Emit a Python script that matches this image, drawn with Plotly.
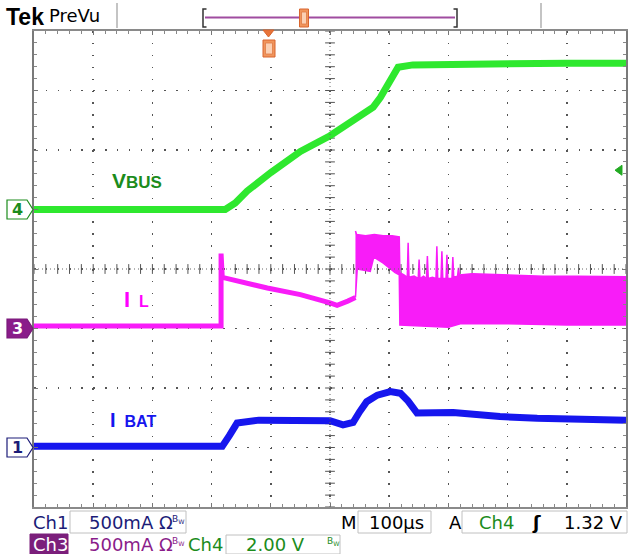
import numpy as np
import plotly.graph_objects as go

# ---------------- data (time in µs, 100 µs/div) ----------------
# Ch4 : VBUS (V), 2.00 V/div, ground marker at +1 div
vbus_t = [0, 100, 200, 323, 340, 360, 400, 450, 500, 534, 550, 573, 585, 600, 615, 640, 700, 800, 900, 1000]
vbus_v = [0.0, 0.0, 0.0, 0.0, 0.22, 0.62, 1.24, 1.95, 2.48, 2.94, 3.16, 3.44, 3.76, 4.30, 4.78, 4.86, 4.88, 4.90, 4.92, 4.92]

# Ch3 : IL (A), 500 mA/div, zero marker at -1 div
il_t = [0, 316, 316, 318, 394, 450, 500, 512, 530, 543]
il_a = [0.02, 0.02, 0.63, 0.43, 0.34, 0.285, 0.215, 0.195, 0.23, 0.26]
# switching region: upper / lower envelope of the inductor current
il_up_t = [543, 545, 560, 575, 590, 605, 617, 618, 625, 630.5, 632, 633.5, 642, 649, 650.5, 652,
           658, 663, 664.5, 666, 673, 679, 680.5, 682, 687.5, 689, 690.5, 696, 697.5, 699,
           706, 707.5, 709, 715.5, 717, 718.5, 740, 800, 860, 920, 1000]
il_up_a = [0.82, 0.79, 0.78, 0.79, 0.78, 0.78, 0.77, 0.47, 0.45, 0.43, 0.72, 0.43, 0.44, 0.42, 0.58, 0.42,
           0.44, 0.42, 0.61, 0.42, 0.43, 0.42, 0.69, 0.42, 0.42, 0.65, 0.42, 0.42, 0.62, 0.42,
           0.42, 0.60, 0.43, 0.44, 0.51, 0.45, 0.46, 0.45, 0.44, 0.44, 0.435]
il_lo_t = [543, 546, 568, 574, 590, 610, 617, 618, 650, 700, 720, 800, 900, 1000]
il_lo_a = [0.26, 0.50, 0.48, 0.60, 0.55, 0.47, 0.45, 0.03, 0.02, 0.01, 0.04, 0.04, 0.03, 0.03]

# Ch1 : IBAT (A), 500 mA/div, zero marker at -3 div
ibat_t = [0, 100, 200, 318, 330, 343, 380, 450, 500, 522, 539, 550, 562, 580, 602, 619, 632, 647, 708, 787, 850, 1000]
ibat_a = [0.01, 0.01, 0.01, 0.01, 0.10, 0.205, 0.23, 0.235, 0.225, 0.19, 0.21, 0.30, 0.385, 0.44, 0.47, 0.455,
          0.39, 0.29, 0.295, 0.26, 0.245, 0.23]

# channel settings: (scale per div, marker position in div)
ch4_scale, ch4_pos = 2.0, 1.0
ch3_scale, ch3_pos = 0.5, -1.0
ch1_scale, ch1_pos = 0.5, -3.0
trig_level = 1.32

def to_div(vals, scale, pos):
    return [v / scale + pos for v in vals]

# ---------------- geometry ----------------
W, H = 628, 554
L, R, T, B = 34, 2, 31, 47
PW, PH = W - L - R, H - T - B

def PX(x):
    return (x - L) / PW

def PY(y):
    return (H - B - y) / PH

GREEN = '#2ee82e'
MAG = '#f81cf8'
BLUE = '#1616ee'
DKGREEN = '#1c8c1c'
NAVY = '#1c1c78'
PURPLE = '#8a1c8a'

fig = go.Figure()

# center cross ticks of the graticule
cx = np.arange(0, 1000.1, 20)
cy = np.arange(-4, 4.01, 0.2)
fig.add_trace(go.Scatter(x=cx, y=np.zeros_like(cx), mode='markers',
                         marker=dict(symbol='line-ns', size=7, line=dict(width=1, color='#555')),
                         hoverinfo='skip'))
fig.add_trace(go.Scatter(x=np.full_like(cy, 500), y=cy, mode='markers',
                         marker=dict(symbol='line-ew', size=7, line=dict(width=1, color='#555')),
                         hoverinfo='skip'))

# VBUS
fig.add_trace(go.Scatter(x=vbus_t, y=to_div(vbus_v, ch4_scale, ch4_pos), mode='lines',
                         line=dict(color=GREEN, width=7), hoverinfo='skip'))
# IBAT
fig.add_trace(go.Scatter(x=ibat_t, y=to_div(ibat_a, ch1_scale, ch1_pos), mode='lines',
                         line=dict(color=BLUE, width=7), hoverinfo='skip'))
# IL (linear part)
fig.add_trace(go.Scatter(x=il_t, y=to_div(il_a, ch3_scale, ch3_pos), mode='lines',
                         line=dict(color=MAG, width=5), hoverinfo='skip'))
# IL (switching band)
band_x = list(il_up_t) + list(il_lo_t[::-1])
band_y = to_div(list(il_up_a) + list(il_lo_a[::-1]), ch3_scale, ch3_pos)
fig.add_trace(go.Scatter(x=band_x, y=band_y, mode='lines', fill='toself', fillcolor=MAG,
                         line=dict(color=MAG, width=1.5), hoverinfo='skip'))

shapes = []
annotations = []

def line_px(x0, y0, x1, y1, color, width=1.5):
    shapes.append(dict(type='line', xref='paper', yref='paper', x0=PX(x0), y0=PY(y0),
                       x1=PX(x1), y1=PY(y1), line=dict(color=color, width=width)))

def rect_px(x0, y0, x1, y1, fill, line_color, width=1):
    shapes.append(dict(type='rect', xref='paper', yref='paper', x0=PX(x0), y0=PY(y0),
                       x1=PX(x1), y1=PY(y1), fillcolor=fill,
                       line=dict(color=line_color, width=width), layer='above'))

def path_px(pts, fill, line_color, width=1):
    d = 'M ' + ' L '.join(f'{PX(x):.5f},{PY(y):.5f}' for x, y in pts) + ' Z'
    shapes.append(dict(type='path', xref='paper', yref='paper', path=d, fillcolor=fill,
                       line=dict(color=line_color, width=width), layer='above'))

def text_px(text, x, y, size, color, family='DejaVu Sans', xanchor='left', yanchor='middle'):
    annotations.append(dict(text=text, xref='paper', yref='paper', x=PX(x), y=PY(y),
                            xanchor=xanchor, yanchor=yanchor, showarrow=False,
                            font=dict(size=size, color=color, family=family)))

# center dotted lines
shapes.append(dict(type='line', xref='paper', yref='y', x0=0, x1=1, y0=0, y1=0,
                   line=dict(color='#666', width=1, dash='1px,3px')))
shapes.append(dict(type='line', xref='x', yref='paper', x0=500, x1=500, y0=0, y1=1,
                   line=dict(color='#666', width=1, dash='1px,3px')))

# channel markers on the left
def ch_marker(pos, label, edge, fill, txt):
    h = 9.5 / (PH / 8)
    pts = [(7, pos + h), (27, pos + h), (33, pos), (27, pos - h), (7, pos - h)]
    d = 'M ' + ' L '.join(f'{PX(x):.5f},{y:.5f}' for x, y in pts) + ' Z'
    shapes.append(dict(type='path', xref='paper', yref='y', path=d, fillcolor=fill,
                       line=dict(color=edge, width=1.2), layer='above'))
    annotations.append(dict(text='<b>' + label + '</b>', xref='paper', yref='y', x=PX(17), y=pos,
                            xanchor='center', yanchor='middle', showarrow=False,
                            font=dict(size=16, color=txt, family='DejaVu Sans')))

ch_marker(ch4_pos, '4', DKGREEN, 'white', DKGREEN)
ch_marker(ch3_pos, '3', '#7a1a7a', '#8a1c8a', 'white')
ch_marker(ch1_pos, '1', NAVY, 'white', NAVY)

# trigger level arrow on the right
lv = ch4_pos + trig_level / ch4_scale
hh = 5 / (PH / 8)
shapes.append(dict(type='path', xref='paper', yref='y',
                   path=f'M {PX(622):.5f},{lv + hh:.5f} L {PX(622):.5f},{lv - hh:.5f} L {PX(615):.5f},{lv:.5f} Z',
                   fillcolor='#22aa22', line=dict(color='#22aa22', width=1), layer='above'))

# trigger position marker (top of graticule)
path_px([(263, 30), (274, 30), (268.5, 37)], '#e8743a', '#d9652e')
rect_px(263, 40, 275, 57, '#f0955c', '#d9652e')
rect_px(265.5, 43, 272.5, 54, '#fbd0b4', '#e07a45', 0.8)

# top bar
text_px('<b>Tek</b>', 4, 17, 23, 'black', family='Liberation Sans')
text_px('PreVu', 47, 16, 18, 'black')
line_px(117, 3, 117, 28, '#b0b0b0', 1.5)
line_px(541, 3, 541, 28, '#b0b0b0', 1.5)
line_px(205, 17.5, 455, 17.5, '#a04ca0', 2)
path_px([(206.5, 9), (203, 9), (203, 27), (206.5, 27), (203, 27), (203, 9)], 'rgba(0,0,0,0)', '#333', 1.5)
path_px([(453.5, 9), (457, 9), (457, 27), (453.5, 27), (457, 27), (457, 9)], 'rgba(0,0,0,0)', '#333', 1.5)
rect_px(299.5, 9, 308.5, 27, '#f0955c', '#d9652e')
rect_px(301.5, 12, 306.5, 24, '#fbd0b4', '#e07a45', 0.8)

# trace labels
text_px('<b>V<span style="font-size:17px">BUS</span></b>', 110, 180, 21, DKGREEN, family='Liberation Sans')
text_px('<b>I<span style="font-size:16px">&nbsp;&nbsp;L</span></b>', 122, 299, 22, '#ff00ff', family='Liberation Sans')
text_px('<b>I<span style="font-size:16px">&nbsp;&nbsp;BAT</span></b>', 108, 420, 20, BLUE, family='Liberation Sans')

# bottom status area
rect_px(70, 511, 186, 533, 'rgba(0,0,0,0)', '#c0c0c0')
rect_px(358, 511, 431, 533, 'rgba(0,0,0,0)', '#c0c0c0')
rect_px(462, 511, 627, 533, 'rgba(0,0,0,0)', '#c0c0c0')
rect_px(226, 535, 340, 554, 'rgba(0,0,0,0)', '#c0c0c0')
rect_px(30, 534, 68, 554, '#7b1f7b', '#7b1f7b')

text_px('Ch1', 31, 522, 18, NAVY)
text_px('500mA Ω', 87, 522, 18, NAVY)
text_px('B<sub>W</sub>', 170, 519, 9, NAVY)
text_px('M', 339, 522, 18, 'black')
text_px('100µs', 367, 522, 18, 'black')
text_px('A', 447, 522, 18, 'black')
text_px('Ch4', 477, 522, 18, DKGREEN)
text_px('<b>ʃ</b>', 530, 522, 18, 'black')
text_px('1.32 V', 625, 522, 18, 'black', xanchor='right')

text_px('Ch3', 31, 544, 18, 'white')
text_px('500mA Ω', 87, 544, 18, PURPLE)
text_px('B<sub>W</sub>', 170, 541, 9, PURPLE)
text_px('Ch4', 186, 544, 18, DKGREEN)
text_px('2.00 V', 244, 544, 18, DKGREEN)
text_px('B<sub>W</sub>', 325, 541, 9, DKGREEN)

fig.update_layout(
    width=W, height=H,
    margin=dict(l=L, r=R, t=T, b=B),
    paper_bgcolor='white', plot_bgcolor='white',
    showlegend=False, hovermode=False,
    template='none',
    shapes=shapes, annotations=annotations,
    xaxis=dict(range=[0, 1000], dtick=100, showticklabels=False, zeroline=False,
               showgrid=True, gridcolor='#555', gridwidth=1.5, griddash='1.5px,10.4px',
               showline=True, linecolor='#8a8a8a', linewidth=2, mirror='allticks',
               ticks='inside', ticklen=4, tickcolor='#777', tickwidth=1,
               minor=dict(dtick=20, ticks='inside', ticklen=3, tickcolor='#888', showgrid=False),
               fixedrange=True),
    yaxis=dict(range=[-4, 4], dtick=1, showticklabels=False, zeroline=False,
               showgrid=True, gridcolor='#555', gridwidth=1.5, griddash='1.5px,10.34px',
               showline=True, linecolor='#7a7a7a', linewidth=2.5, mirror='allticks',
               ticks='inside', ticklen=4, tickcolor='#777', tickwidth=1,
               minor=dict(dtick=0.2, ticks='inside', ticklen=3, tickcolor='#888', showgrid=False),
               fixedrange=True),
)

fig.write_html('out.html', config=dict(displayModeBar=False, staticPlot=True),
               post_script="document.body.style.margin='0';document.body.style.overflow='hidden';")
